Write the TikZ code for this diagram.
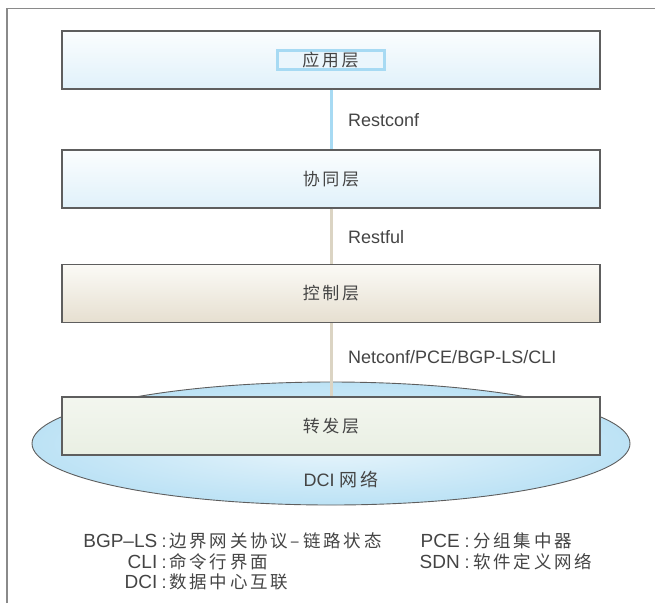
\documentclass[tikz,border=0pt]{standalone}
\usepackage{fontspec}
\setmainfont{Liberation Sans}
\newfontfamily\cjk{Noto Sans CJK SC}
\newfontfamily\cjkls[LetterSpace=16]{Noto Sans CJK SC}
\usetikzlibrary{shapes.geometric}
\definecolor{txt}{HTML}{444444}
\definecolor{frame}{HTML}{8A8A8A}
\definecolor{edge}{HTML}{5E5E5E}
\definecolor{bluetop}{HTML}{FBFDFE}
\definecolor{bluebot}{HTML}{E0F1FA}
\definecolor{beigetop}{HTML}{FBFAF6}
\definecolor{beigebot}{HTML}{E6DFD0}
\definecolor{greentop}{HTML}{F3F6EF}
\definecolor{greenbot}{HTML}{E9EFE3}
\definecolor{linkblue}{HTML}{A7DAF3}
\definecolor{linkbeige}{HTML}{DBD4C3}
\definecolor{ellout}{HTML}{BCE2F5}
\definecolor{ellin}{HTML}{EAF6FC}
\tikzset{
  layer/.style={draw=edge, line width=1.2pt, minimum width=538pt, minimum height=58pt,
    inner sep=0pt, font=\fontsize{17}{20}\selectfont\cjkls, text=txt},
  bluelayer/.style={layer, top color=bluetop, bottom color=bluebot},
  beigelayer/.style={layer, top color=beigetop, bottom color=beigebot},
  greenlayer/.style={layer, top color=greentop, bottom color=greenbot},
  link/.style={line width=3pt},
  proto/.style={anchor=west, inner sep=0pt, font=\fontsize{18}{20}\selectfont, text=txt},
  legterm/.style={anchor=base east, inner sep=0pt, font=\fontsize{19}{20}\selectfont, text=txt},
  legcolon/.style={anchor=base, inner sep=0pt, font=\fontsize{18}{20}\selectfont, text=txt},
  legdesc/.style={anchor=base west, inner sep=0pt, font=\fontsize{17.5}{20}\selectfont\cjkls, text=txt},
}
\begin{document}
\begin{tikzpicture}[x=1pt,y=-1pt]
\useasboundingbox (0,0) rectangle (655,603);
% frame
\draw[frame, line width=1.5pt] (7,603) -- (7,8.5) -- (655,8.5);
% network ellipse
\node[ellipse, draw=edge, line width=0.9pt, minimum width=598pt, minimum height=123pt,
  inner color=ellin, outer color=ellout] (dci) at (331,443.5) {};
% layers
\node[bluelayer] (app) at (331,60) {};
\node[draw=linkblue, line width=3pt, fill=bluetop!40!bluebot, minimum width=107pt, minimum height=19pt,
  inner sep=0pt, font=\fontsize{17}{20}\selectfont\cjkls, text=txt] (apptxt) at (330.5,60) {应用层};
\node[bluelayer] (coop) at (331,179) {协同层};
\node[beigelayer] (ctrl) at (331,293.5) {控制层};
\node[greenlayer] (fwd) at (331,426) {转发层};
% connectors
\draw[link, linkblue] (app.south) -- (coop.north);
\draw[link, linkbeige] (coop.south) -- (ctrl.north);
\draw[link, linkbeige] (ctrl.south) -- (fwd.north);
% protocol labels
\node[proto] (l1) at (348,120) {Restconf};
\node[proto] (l2) at (348,237) {Restful};
\node[proto] (l3) at (348,357) {Netconf/PCE/BGP-LS/CLI};
% network label
\node[inner sep=0pt, font=\fontsize{18}{20}\selectfont, text=txt] (dcilbl) at (341,480) {DCI {\cjkls 网络}};
% legend
\node[legterm] (t1) at (157.5,547.5) {BGP–LS};
\node[legcolon] (c1) at (164,547.5) {:};
\node[legdesc] (d1) at (169,547.5) {边界网关协议–链路状态};
\node[legterm] (t2) at (157.5,568) {CLI};
\node[legcolon] (c2) at (164,568) {:};
\node[legdesc] (d2) at (169,568) {命令行界面};
\node[legterm] (t3) at (157.5,588) {DCI};
\node[legcolon] (c3) at (164,588) {:};
\node[legdesc] (d3) at (169,588) {数据中心互联};
\node[legterm] (t4) at (460,547.5) {PCE};
\node[legcolon] (c4) at (467,547.5) {:};
\node[legdesc] (d4) at (473,547.5) {分组集中器};
\node[legterm] (t5) at (460,568) {SDN};
\node[legcolon] (c5) at (467,568) {:};
\node[legdesc] (d5) at (473,568) {软件定义网络};
\end{tikzpicture}
\end{document}
